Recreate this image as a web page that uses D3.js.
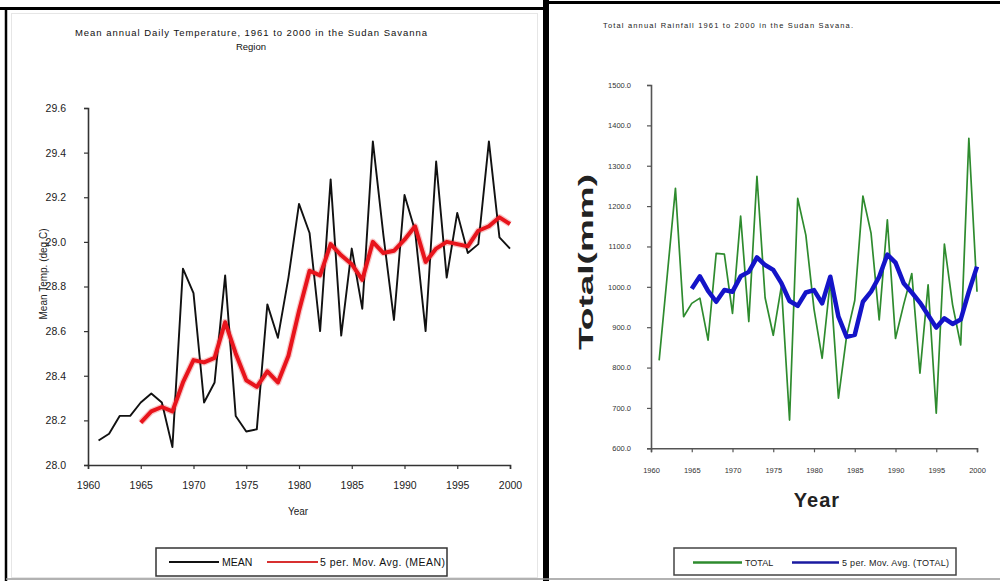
<!DOCTYPE html>
<html>
<head>
<meta charset="utf-8">
<script src="https://cdn.jsdelivr.net/npm/d3@7"></script>
<style>
  html, body { margin: 0; padding: 0; background: #fff; }
  svg { display: block; font-family: "Liberation Sans", Arial, sans-serif; }
</style>
</head>
<body>
<svg id="chart" width="1000" height="581"></svg>
<script>
// ---- Data: Sudan Savanna region, 1961–2000 ----
const years = d3.range(1961, 2001);
const maYears = d3.range(1965, 2001);

// Mean annual daily temperature (deg C)
const meanTemp = [
  28.11, 28.14, 28.22, 28.22, 28.28, 28.32, 28.28, 28.08, 28.88, 28.77,
  28.28, 28.37, 28.85, 28.22, 28.15, 28.16, 28.72, 28.57, 28.84, 29.17,
  29.04, 28.60, 29.28, 28.58, 28.97, 28.70, 29.45, 29.03, 28.65, 29.21,
  29.05, 28.60, 29.36, 28.84, 29.13, 28.95, 28.99, 29.45, 29.02, 28.97
];
// 5-period moving average of the mean temperature (1965–2000)
const meanTempMA = [
  28.19, 28.24, 28.26, 28.24, 28.37, 28.47, 28.46, 28.48, 28.64, 28.50,
  28.38, 28.35, 28.42, 28.37, 28.49, 28.69, 28.87, 28.85, 28.99, 28.94,
  28.90, 28.83, 29.00, 28.95, 28.96, 29.01, 29.07, 28.91, 28.97, 29.00,
  28.99, 28.98, 29.05, 29.07, 29.11, 29.08
];

// Total annual rainfall (mm)
const rainTotal = [
  818, 1030, 1244, 926, 959, 972, 868, 1083, 1081, 934,
  1175, 914, 1274, 973, 880, 1002, 670, 1219, 1128, 945,
  823, 1015, 724, 878, 966, 1225, 1133, 918, 1166, 872,
  956, 1033, 786, 1005, 687, 1106, 956, 856, 1368, 988
];
// 5-period moving average of the rainfall total (1965–2000)
const rainTotalMA = [
  995, 1026, 990, 963, 992, 988, 1026, 1037, 1073, 1054,
  1042, 1009, 965, 953, 986, 992, 959, 1025, 926, 876,
  881, 963, 988, 1025, 1080, 1060, 1009, 986, 961, 930,
  899, 922, 908, 919, 988, 1050
];

const tempTicks = d3.range(28.0, 29.61, 0.2);
const rainTicks = d3.range(600, 1501, 100);
const yearTicks = d3.range(1960, 2001, 5);

const svg = d3.select("#chart");

// ---- Panel frames ----
svg.append("rect").attr("x", 0).attr("y", 0).attr("width", 1000).attr("height", 581).attr("fill", "#fff");
// left panel
svg.append("line").attr("x1", 0).attr("x2", 545).attr("y1", 8.5).attr("y2", 8.5)
  .attr("stroke", "#000").attr("stroke-width", 3);
svg.append("line").attr("x1", 6).attr("x2", 6).attr("y1", 8).attr("y2", 581)
  .attr("stroke", "#000").attr("stroke-width", 2.5);
svg.append("rect").attr("x", 11.5).attr("y", 13.5).attr("width", 526).attr("height", 564)
  .attr("fill", "none").attr("stroke", "#e6e6e6").attr("stroke-width", 1);
// divider between panels
svg.append("line").attr("x1", 546).attr("x2", 546).attr("y1", 0).attr("y2", 581)
  .attr("stroke", "#000").attr("stroke-width", 6);
// right panel top edge
svg.append("line").attr("x1", 546).attr("x2", 1000).attr("y1", 2.5).attr("y2", 2.5)
  .attr("stroke", "#000").attr("stroke-width", 3);
// bottom edge
svg.append("line").attr("x1", 6).attr("x2", 1000).attr("y1", 579).attr("y2", 579)
  .attr("stroke", "#999").attr("stroke-width", 1.5);

// ================= Left chart: temperature =================
const xL = d3.scaleLinear().domain([1960, 2000]).range([88, 510]);
const yL = d3.scaleLinear().domain([28.0, 29.6]).range([465, 108]);

const gL = svg.append("g");

gL.append("text")
  .attr("x", 251).attr("y", 36).attr("text-anchor", "middle")
  .attr("font-size", 9.5).attr("fill", "#111")
  .attr("textLength", 352).attr("lengthAdjust", "spacing")
  .text("Mean annual Daily Temperature, 1961 to 2000 in the Sudan Savanna");
gL.append("text")
  .attr("x", 251).attr("y", 50).attr("text-anchor", "middle")
  .attr("font-size", 9.5).attr("fill", "#111")
  .text("Region");

const axL_y = gL.append("g").attr("transform", `translate(${xL(1960)},0)`)
  .call(d3.axisLeft(yL).tickValues(tempTicks).tickFormat(d3.format(".1f")).tickSize(4).tickPadding(18));
const axL_x = gL.append("g").attr("transform", `translate(0,${yL(28.0)})`)
  .call(d3.axisBottom(xL).tickValues(yearTicks).tickFormat(d3.format("d")).tickSize(4).tickPadding(18));
[axL_y, axL_x].forEach(a => {
  a.select(".domain").attr("stroke", "#333").attr("stroke-width", 1.6);
  a.selectAll(".tick line").attr("stroke", "#333").attr("stroke-width", 1.2);
  a.selectAll(".tick text").attr("fill", "#222").attr("font-size", 10.5)
    .attr("font-family", "Liberation Sans, Arial, sans-serif");
});
axL_x.selectAll(".tick text").attr("dy", "0.2em");

gL.append("text")
  .attr("transform", `translate(47,${274}) rotate(-90)`)
  .attr("text-anchor", "middle").attr("font-size", 10).attr("fill", "#222")
  .text("Mean Temp. (deg.C)");
gL.append("text")
  .attr("x", 298).attr("y", 515).attr("text-anchor", "middle")
  .attr("font-size", 10).attr("fill", "#222").text("Year");

const lineL = d3.line().x(d => xL(d[0])).y(d => yL(d[1]));

gL.append("path")
  .datum(d3.zip(maYears, meanTempMA))
  .attr("d", lineL).attr("fill", "none")
  .attr("stroke", "#f4a0a0").attr("stroke-width", 6.5).attr("stroke-linejoin", "round").attr("opacity", 0.6);
gL.append("path")
  .datum(d3.zip(years, meanTemp))
  .attr("d", lineL).attr("fill", "none")
  .attr("stroke", "#111").attr("stroke-width", 1.9).attr("stroke-linejoin", "round");
gL.append("path")
  .datum(d3.zip(maYears, meanTempMA))
  .attr("d", lineL).attr("fill", "none")
  .attr("stroke", "#e8141c").attr("stroke-width", 4).attr("stroke-linejoin", "round");

// legend
const lgL = gL.append("g");
lgL.append("rect").attr("x", 156).attr("y", 548).attr("width", 291).attr("height", 28)
  .attr("fill", "#fff").attr("stroke", "#333").attr("stroke-width", 1.5);
lgL.append("line").attr("x1", 169).attr("x2", 219).attr("y1", 562).attr("y2", 562)
  .attr("stroke", "#111").attr("stroke-width", 2.2);
lgL.append("text").attr("x", 222).attr("y", 566).attr("font-size", 10.5).attr("fill", "#111").text("MEAN");
lgL.append("line").attr("x1", 267).attr("x2", 318).attr("y1", 562).attr("y2", 562)
  .attr("stroke", "#d83030").attr("stroke-width", 2.2);
lgL.append("text").attr("x", 320).attr("y", 566).attr("font-size", 10.5).attr("fill", "#111")
  .attr("textLength", 125).attr("lengthAdjust", "spacing")
  .text("5 per. Mov. Avg. (MEAN)");

// ================= Right chart: rainfall =================
const xR = d3.scaleLinear().domain([1960, 2000]).range([651, 977]);
const yR = d3.scaleLinear().domain([600, 1500]).range([448.3, 85]);

const gR = svg.append("g");

gR.append("text")
  .attr("x", 603).attr("y", 28)
  .attr("font-size", 7.5).attr("fill", "#222")
  .attr("textLength", 250).attr("lengthAdjust", "spacing")
  .text("Total annual Rainfall 1961 to 2000 in the Sudan Savana.");

const axR_y = gR.append("g").attr("transform", `translate(${xR(1960)},0)`)
  .call(d3.axisLeft(yR).tickValues(rainTicks).tickFormat(d3.format(".1f")).tickSize(4).tickPadding(16));
const axR_x = gR.append("g").attr("transform", `translate(0,${yR(600)})`)
  .call(d3.axisBottom(xR).tickValues(yearTicks).tickFormat(d3.format("d")).tickSize(4).tickPadding(18));
[axR_y, axR_x].forEach(a => {
  a.select(".domain").attr("stroke", "#555").attr("stroke-width", 1.6);
  a.selectAll(".tick line").attr("stroke", "#555").attr("stroke-width", 1.2);
  a.selectAll(".tick text").attr("fill", "#333").attr("font-size", 7.5)
    .attr("font-family", "Liberation Sans, Arial, sans-serif");
});
axR_x.selectAll(".tick text").attr("dy", "0.3em");

gR.append("text")
  .attr("transform", `translate(593,${262}) rotate(-90)`)
  .attr("text-anchor", "middle").attr("font-size", 21).attr("font-weight", "bold").attr("fill", "#222")
  .attr("textLength", 176).attr("lengthAdjust", "spacingAndGlyphs")
  .text("Total(mm)");
gR.append("text")
  .attr("x", 817).attr("y", 507).attr("text-anchor", "middle")
  .attr("font-size", 20).attr("font-weight", "bold").attr("fill", "#222")
  .attr("letter-spacing", 1)
  .text("Year");

const lineR = d3.line().x(d => xR(d[0])).y(d => yR(d[1]));

gR.append("path")
  .datum(d3.zip(years, rainTotal))
  .attr("d", lineR).attr("fill", "none")
  .attr("stroke", "#2e8b2e").attr("stroke-width", 1.7).attr("stroke-linejoin", "round");
gR.append("path")
  .datum(d3.zip(maYears, rainTotalMA))
  .attr("d", lineR).attr("fill", "none")
  .attr("stroke", "#1414c8").attr("stroke-width", 4.5).attr("stroke-linejoin", "round");

// legend
const lgR = gR.append("g");
lgR.append("rect").attr("x", 674).attr("y", 548).attr("width", 282).attr("height", 27)
  .attr("fill", "#fff").attr("stroke", "#444").attr("stroke-width", 1.5);
lgR.append("line").attr("x1", 693).attr("x2", 742).attr("y1", 562.5).attr("y2", 562.5)
  .attr("stroke", "#2e8b2e").attr("stroke-width", 2.5);
lgR.append("text").attr("x", 745).attr("y", 566).attr("font-size", 9).attr("fill", "#222").text("TOTAL");
lgR.append("line").attr("x1", 792).attr("x2", 839).attr("y1", 562.5).attr("y2", 562.5)
  .attr("stroke", "#1a1aa0").attr("stroke-width", 2.5);
lgR.append("text").attr("x", 842).attr("y", 566).attr("font-size", 9).attr("fill", "#222")
  .attr("textLength", 107).attr("lengthAdjust", "spacing")
  .text("5 per. Mov. Avg. (TOTAL)");
</script>
</body>
</html>
